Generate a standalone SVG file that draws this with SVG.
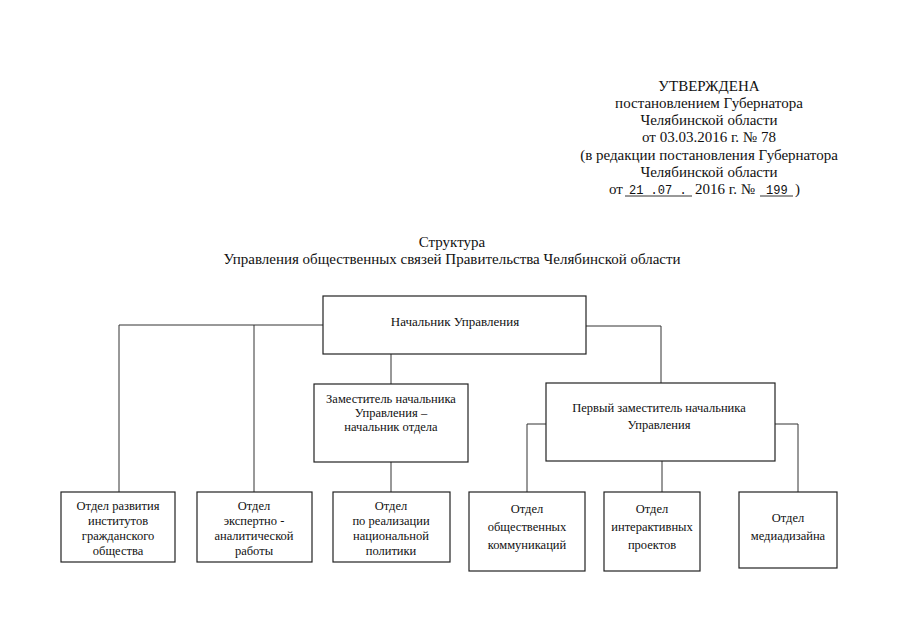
<svg xmlns="http://www.w3.org/2000/svg" width="905" height="640" viewBox="0 0 905 640">
<style>
text{font-family:"Liberation Serif","Times New Roman",serif;fill:#111;}
.h{font-size:15px;text-anchor:middle;}
.b{font-size:12.5px;text-anchor:middle;}
.m{font-family:"Liberation Mono","Courier New",monospace;font-size:12px;}
.box{fill:#fff;stroke:#222;stroke-width:1.2;}
.c{fill:none;stroke:#333;stroke-width:1;}
</style>
<rect width="905" height="640" fill="#fff"/>
<g id="header">
<text class="h" x="709" y="91">УТВЕРЖДЕНА</text>
<text class="h" x="709" y="108">постановлением Губернатора</text>
<text class="h" x="709" y="125">Челябинской области</text>
<text class="h" x="709" y="142">от 03.03.2016 г. № 78</text>
<text class="h" x="709" y="160">(в редакции постановления Губернатора</text>
<text class="h" x="709" y="177">Челябинской области</text>
<text x="609" y="194" style="font-size:15px">от</text>
<text class="m" x="629" y="194">21 .07 .</text>
<text x="695" y="194" style="font-size:15px">2016 г. №</text>
<text class="m" x="766" y="194">199</text>
<text x="795" y="194" style="font-size:15px">)</text>
<line class="c" x1="625" y1="196" x2="692" y2="196"/>
<line class="c" x1="760" y1="196" x2="793" y2="196"/>
</g>
<g id="title">
<text class="h" x="452" y="247">Структура</text>
<text class="h" x="452" y="264">Управления общественных связей Правительства Челябинской области</text>
</g>
<g id="connectors">
<polyline class="c" points="323,325 119,325 119,492"/>
<line class="c" x1="254" y1="325" x2="254" y2="492"/>
<line class="c" x1="391" y1="354" x2="391" y2="384"/>
<line class="c" x1="391" y1="462" x2="391" y2="492"/>
<polyline class="c" points="586,326 661,326 661,383"/>
<polyline class="c" points="546,424 527,424 527,492"/>
<line class="c" x1="662" y1="461" x2="662" y2="492"/>
<polyline class="c" points="775,424 798,424 798,492"/>
</g>
<g id="n-head">
<rect class="box" x="323" y="296" width="263" height="58"/>
<text class="b" x="455" y="326" style="font-size:13px">Начальник Управления</text>
</g>
<g id="n-deputy">
<rect class="box" x="314" y="384" width="154" height="78"/>
<text class="b" x="391" y="403">Заместитель начальника</text>
<text class="b" x="391" y="417">Управления –</text>
<text class="b" x="391" y="431">начальник отдела</text>
</g>
<g id="n-first">
<rect class="box" x="546" y="383" width="229" height="78"/>
<text class="b" x="659" y="412">Первый заместитель начальника</text>
<text class="b" x="659" y="429">Управления</text>
</g>
<g id="n-d1">
<rect class="box" x="61" y="492" width="114" height="70"/>
<text class="b" x="118" y="510">Отдел развития</text>
<text class="b" x="118" y="525">институтов</text>
<text class="b" x="118" y="540">гражданского</text>
<text class="b" x="118" y="555">общества</text>
</g>
<g id="n-d2">
<rect class="box" x="197" y="492" width="115" height="70"/>
<text class="b" x="254" y="510">Отдел</text>
<text class="b" x="254" y="525">экспертно -</text>
<text class="b" x="254" y="540">аналитической</text>
<text class="b" x="254" y="555">работы</text>
</g>
<g id="n-d3">
<rect class="box" x="333" y="492" width="117" height="70"/>
<text class="b" x="391" y="510">Отдел</text>
<text class="b" x="391" y="525">по реализации</text>
<text class="b" x="391" y="540">национальной</text>
<text class="b" x="391" y="555">политики</text>
</g>
<g id="n-d4">
<rect class="box" x="469" y="492" width="116" height="79"/>
<text class="b" x="527" y="513">Отдел</text>
<text class="b" x="527" y="531">общественных</text>
<text class="b" x="527" y="549">коммуникаций</text>
</g>
<g id="n-d5">
<rect class="box" x="604" y="492" width="96" height="79"/>
<text class="b" x="652" y="513">Отдел</text>
<text class="b" x="652" y="531">интерактивных</text>
<text class="b" x="652" y="549">проектов</text>
</g>
<g id="n-d6">
<rect class="box" x="739" y="492" width="98" height="76"/>
<text class="b" x="788" y="522">Отдел</text>
<text class="b" x="788" y="540">медиадизайна</text>
</g>
</svg>
